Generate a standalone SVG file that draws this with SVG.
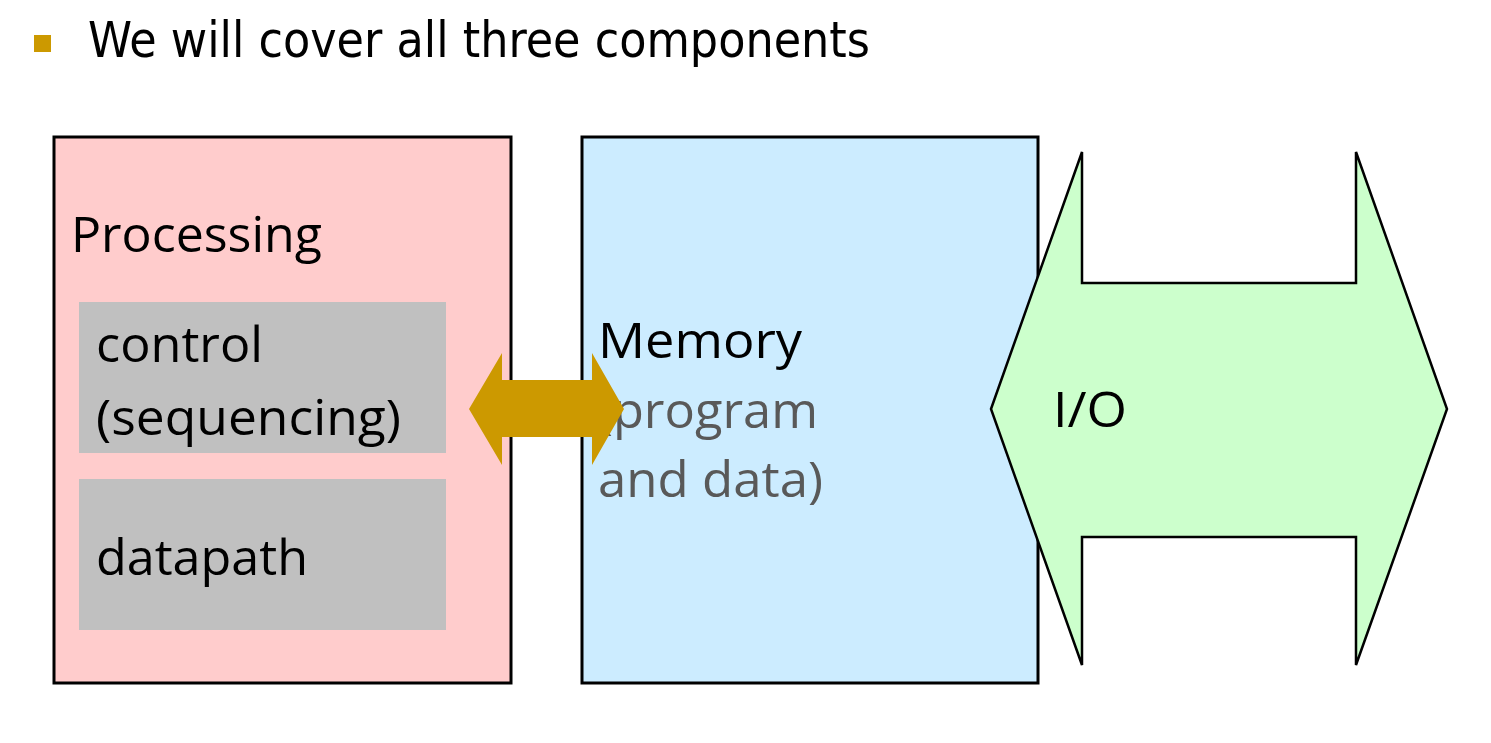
<svg xmlns="http://www.w3.org/2000/svg" width="1491" height="743" viewBox="0 0 1491 743">
<style>
.box{stroke:#000;stroke-width:3}
.t{font-family:"Open Sans","Noto Sans",sans-serif;font-size:49px;fill:#000}
.g{fill:#595959}
</style>
<rect width="1491" height="743" fill="#fff"/>
<g id="title">
<rect x="34" y="35" width="17" height="17" fill="#CC9900"/>
<text x="88" y="57" font-family="'DejaVu Sans Condensed','DejaVu Sans',sans-serif" font-size="50" textLength="782" lengthAdjust="spacingAndGlyphs">We will cover all three components</text>
</g>
<g id="processing">
<rect class="box" x="54" y="137" width="457" height="546" fill="#FFCCCC"/>
<text class="t" x="71" y="252" textLength="251" lengthAdjust="spacingAndGlyphs">Processing</text>
</g>
<g id="control">
<rect x="79" y="302" width="367" height="151" fill="#C0C0C0"/>
<text class="t" x="96" y="362" textLength="167" lengthAdjust="spacingAndGlyphs">control</text>
<text class="t" x="96" y="435" textLength="305" lengthAdjust="spacingAndGlyphs">(sequencing)</text>
</g>
<g id="datapath">
<rect x="79" y="479" width="367" height="151" fill="#C0C0C0"/>
<text class="t" x="96" y="575" textLength="212" lengthAdjust="spacingAndGlyphs">datapath</text>
</g>
<g id="memory">
<rect class="box" x="582" y="137" width="456" height="546" fill="#CCECFF"/>
<text class="t" x="598" y="358" textLength="204" lengthAdjust="spacingAndGlyphs">Memory</text>
<text class="t g" x="598" y="428" textLength="220" lengthAdjust="spacingAndGlyphs">(program</text>
<text class="t g" x="598" y="497" textLength="225" lengthAdjust="spacingAndGlyphs">and data)</text>
</g>
<g id="connectors">
<polygon points="469,409 502,353 502,380 592,380 592,353 624,409 592,465 592,437 502,437 502,465" fill="#CC9900"/>
</g>
<g id="io">
<polygon points="991,409 1082,152 1082,283 1356,283 1356,152 1447,409 1356,665 1356,537 1082,537 1082,665" fill="#CCFFCC" stroke="#000" stroke-width="2.5" stroke-linejoin="miter"/>
<text class="t" x="1053" y="427" textLength="74" lengthAdjust="spacingAndGlyphs">I/O</text>
</g>
</svg>
